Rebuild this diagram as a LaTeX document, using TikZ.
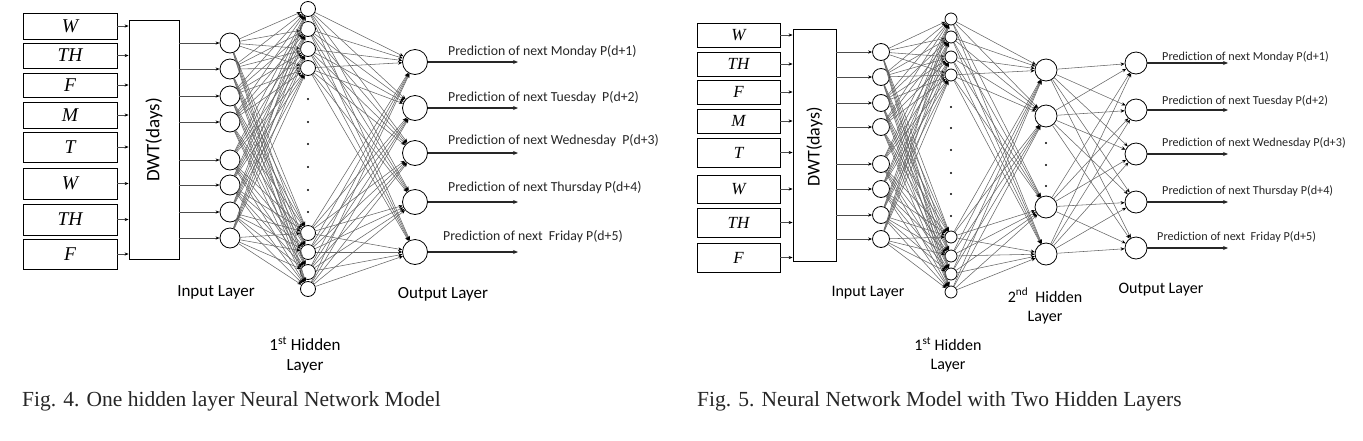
\documentclass[tikz,border=0pt]{standalone}
\usepackage{fontspec}
\setmainfont{Liberation Serif}
\newfontfamily\calfont[Ligatures=NoCommon]{Carlito}
\usetikzlibrary{arrows.meta}
\begin{document}
\begin{tikzpicture}[x=1pt,y=-1pt,
  daybox/.style={draw, line width=0.9pt, inner sep=0pt, font=\fontsize{19.5}{21}\selectfont\itshape},
  dwtbox/.style={draw, line width=0.8pt, inner sep=0pt},
  neuron/.style={circle, draw, line width=0.8pt, inner sep=0pt, fill=white},
  conn/.style={draw=black!60, line width=0.55pt, -{Stealth[length=4pt,width=3.4pt,black]}},
  feed/.style={draw=black!70, line width=0.7pt, -{Stealth[length=4pt,width=3.2pt,black]}},
  outarrow/.style={draw=black!85, line width=1.1pt, -{Stealth[length=5pt,width=4pt]}},
  lbl/.style={font=\calfont\fontsize{17}{19}\selectfont, inner sep=0pt, align=center},
  pred/.style={anchor=west, inner sep=0pt, text=black!85},
  figcap/.style={anchor=west, inner sep=0pt, font=\fontsize{21.5}{24}\selectfont, text=black!85}
]
\useasboundingbox (0,0) rectangle (1363,440);

% ================= Fig. 4 =================
\foreach \c/\h/\t [count=\i] in {26/26/W, 55.5/25/TH, 85/24/F, 115/26/M, 147/30/T, 183.5/31/W, 219.5/31/TH, 254/30/F}
  \node[daybox, minimum width=94pt, minimum height=\h pt] (A-b\i) at (70,\c) {\t};
\node[dwtbox, minimum width=50pt, minimum height=239pt] (A-d) at (154,139.5) {};
\node[rotate=90, font=\calfont\fontsize{19}{21}\selectfont] (A-dt) at (154,140) {DWT(days)};
\foreach \i in {1,...,8}
  \draw[feed] (A-b\i.east) -- (A-b\i.east -| A-d.west);

\foreach \y [count=\i] in {43,69,96,122,160,185,212,238}
  \node[neuron, minimum size=20pt] (A-in\i) at (230,\y) {};
\foreach \y [count=\i] in {9,29,49,68,233,252,272,289}
  \node[neuron, minimum size=15pt] (A-h\i) at (308,\y) {};
\foreach \y [count=\i] in {62,108,153,202,252}
  \node[neuron, minimum size=25pt] (A-o\i) at (415,\y) {};

\foreach \i in {1,...,8}
  \draw[feed] (A-in\i -| A-d.east) -- (A-in\i.west);
\foreach \i in {1,...,8}
  \foreach \j in {1,...,8}
    \draw[conn] (A-in\i) -- (A-h\j);
\foreach \i in {1,...,8}
  \foreach \j in {1,...,5}
    \draw[conn] (A-h\i) -- (A-o\j);
\foreach \y in {99,122,144,167,190,212}
  \fill (308,\y) circle (1.2pt);

\foreach \i in {1,...,5} {
  \coordinate (A-e\i) at (518, 0 |- A-o\i);
  \draw[outarrow] (A-o\i.east) -- (A-e\i);
}
\begin{scope}[font=\calfont\fontsize{13.8}{16}\selectfont]
\node[pred] (A-p1) at (448,52) {Prediction of next Monday P(d+1)};
\node[pred] (A-p2) at (448,98) {Prediction of next Tuesday\ \ P(d+2)};
\node[pred] (A-p3) at (448,141) {Prediction of next Wednesday\ \ P(d+3)};
\node[pred] (A-p4) at (448,188) {Prediction of next Thursday P(d+4)};
\node[pred] (A-p5) at (443,237) {Prediction of next\ \ Friday P(d+5)};
\end{scope}

\node[lbl] (A-li) at (216,292) {Input Layer};
\node[lbl] (A-lo) at (443,294) {Output Layer};
\node[lbl] (A-lh) at (305,355) {1\textsuperscript{st} Hidden\\[1pt]Layer};
\node[figcap] (A-cap) at (22,401) {Fig. 4. One hidden layer Neural Network Model};

% ================= Fig. 5 =================
\foreach \c/\h/\t [count=\i] in {35/24/W, 64/24/TH, 92/24/F, 121/24/M, 152.5/29/T, 189/28/W, 222.5/29/TH, 257.5/29/F}
  \node[daybox, minimum width=83pt, minimum height=\h pt, font=\fontsize{17}{19}\selectfont\itshape] (B-b\i) at (738.5,\c) {\t};
\node[dwtbox, minimum width=43pt, minimum height=232pt] (B-d) at (814.5,145) {};
\node[rotate=90, font=\calfont\fontsize{18}{20}\selectfont] (B-dt) at (814.5,147) {DWT(days)};
\foreach \i in {1,...,8}
  \draw[feed] (B-b\i.east) -- (B-b\i.east -| B-d.west);

\foreach \y [count=\i] in {52,77,103,127,164,189,215,239}
  \node[neuron, minimum size=17pt] (B-in\i) at (881,\y) {};
\foreach \y [count=\i] in {19,37,57,75,237,256,274,292}
  \node[neuron, minimum size=12pt] (B-h\i) at (951,\y) {};
\foreach \y [count=\i] in {70,116,207,254}
  \node[neuron, minimum size=22pt] (B-k\i) at (1046,\y) {};
\foreach \y [count=\i] in {63,110,154,202,248}
  \node[neuron, minimum size=22pt] (B-o\i) at (1136,\y) {};

\foreach \i in {1,...,8}
  \draw[feed] (B-in\i -| B-d.east) -- (B-in\i.west);
\foreach \i in {1,...,8}
  \foreach \j in {1,...,8}
    \draw[conn] (B-in\i) -- (B-h\j);
\foreach \i in {1,...,8}
  \foreach \j in {1,...,4}
    \draw[conn] (B-h\i) -- (B-k\j);
\foreach \i in {1,...,4}
  \foreach \j in {1,...,5}
    \draw[conn] (B-k\i) -- (B-o\j);
\foreach \y in {107,128,150,173,194,216}
  \fill (951,\y) circle (1.1pt);
\foreach \y in {143,165,186}
  \fill (1046,\y) circle (1.1pt);

\foreach \i in {1,...,5} {
  \coordinate (B-e\i) at (1228, 0 |- B-o\i);
  \draw[outarrow] (B-o\i.east) -- (B-e\i);
}
\begin{scope}[font=\calfont\fontsize{12.2}{14}\selectfont]
\node[pred] (B-p1) at (1162,57) {Prediction of next Monday P(d+1)};
\node[pred] (B-p2) at (1162,101) {Prediction of next Tuesday P(d+2)};
\node[pred] (B-p3) at (1162,143) {Prediction of next Wednesday P(d+3)};
\node[pred] (B-p4) at (1162,191) {Prediction of next Thursday P(d+4)};
\node[pred] (B-p5) at (1157,237) {Prediction of next\ \ Friday P(d+5)};
\end{scope}

\node[lbl, font=\calfont\fontsize{16}{18}\selectfont] (B-li) at (868,293) {Input Layer};
\node[lbl, font=\calfont\fontsize{16}{18}\selectfont] (B-lh2) at (1045,306) {2\textsuperscript{nd}\ \ Hidden\\[1pt]Layer};
\node[lbl, font=\calfont\fontsize{16}{18}\selectfont] (B-lo) at (1161,290) {Output Layer};
\node[lbl, font=\calfont\fontsize{16}{18}\selectfont] (B-lh1) at (948,355) {1\textsuperscript{st} Hidden\\[1pt]Layer};
\node[figcap] (B-cap) at (697,401) {Fig. 5. Neural Network Model with Two Hidden Layers};
\end{tikzpicture}
\end{document}
